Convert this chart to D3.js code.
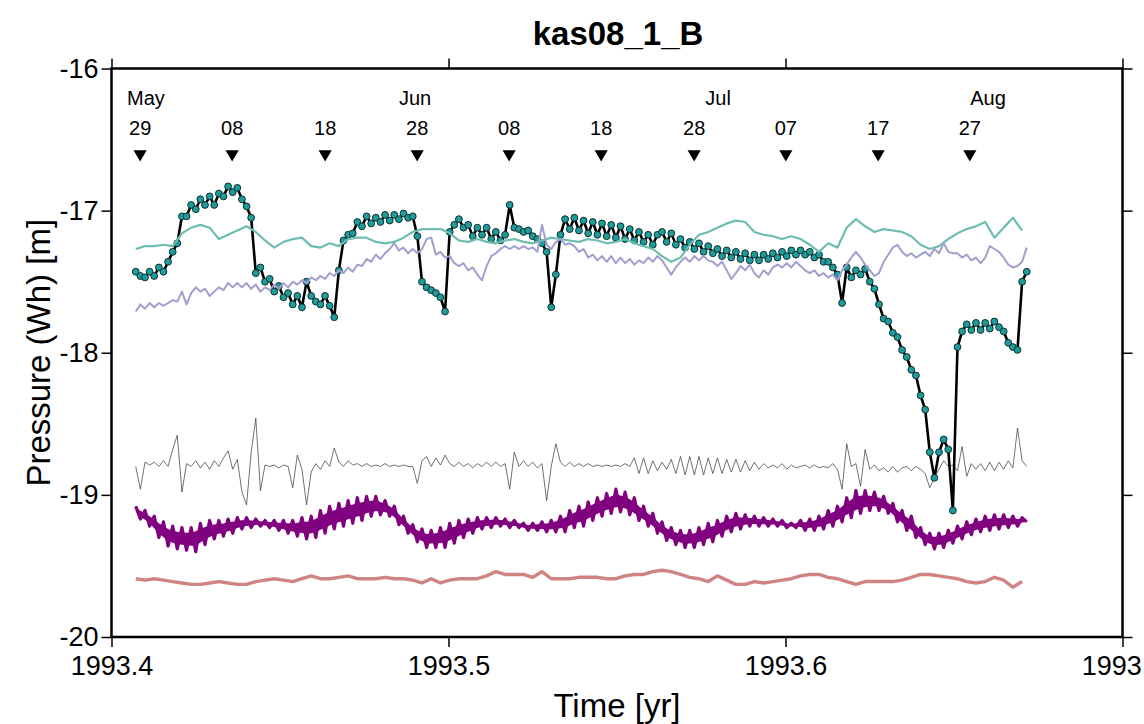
<!DOCTYPE html>
<html>
<head>
<meta charset="utf-8">
<script src="https://cdn.jsdelivr.net/npm/d3@7"></script>
<style>
  body { margin: 0; background: #fff; }
  text { font-family: "Liberation Sans", Arial, Helvetica, sans-serif; }
</style>
</head>
<body>
<svg id="chart" width="1144" height="724"></svg>
<script>
// sampling: first sample and spacing, in decimal years
var startYear = 1993.4072
var halfDay = 0.5 / 365
var oneDay = 1 / 365

// observed pressure (black with dots), half-day samples
var pressure = [
  -17.43,-17.46,-17.47,-17.43,-17.46,-17.40,-17.43,-17.36,-17.29,-17.23,
  -17.04,-17.04,-16.96,-16.99,-16.92,-16.96,-16.90,-16.96,-16.88,-16.90,
  -16.83,-16.87,-16.84,-16.92,-16.97,-17.05,-17.44,-17.40,-17.50,-17.48,
  -17.57,-17.53,-17.61,-17.58,-17.66,-17.60,-17.68,-17.50,-17.60,-17.64,
  -17.66,-17.60,-17.67,-17.75,-17.42,-17.21,-17.17,-17.16,-17.08,-17.11,
  -17.04,-17.09,-17.05,-17.08,-17.03,-17.07,-17.03,-17.06,-17.02,-17.05,
  -17.04,-17.18,-17.50,-17.54,-17.56,-17.58,-17.61,-17.71,-17.15,-17.10,
  -17.06,-17.12,-17.10,-17.18,-17.12,-17.17,-17.12,-17.20,-17.15,-17.21,
  -17.17,-16.96,-17.12,-17.13,-17.15,-17.14,-17.18,-17.20,-17.23,-17.29,
  -17.68,-17.45,-17.17,-17.06,-17.13,-17.05,-17.14,-17.07,-17.16,-17.08,
  -17.17,-17.09,-17.18,-17.10,-17.19,-17.11,-17.20,-17.13,-17.21,-17.15,
  -17.22,-17.17,-17.24,-17.17,-17.15,-17.22,-17.16,-17.24,-17.20,-17.26,
  -17.22,-17.27,-17.23,-17.29,-17.25,-17.30,-17.27,-17.32,-17.28,-17.33,
  -17.29,-17.34,-17.30,-17.35,-17.31,-17.35,-17.31,-17.34,-17.30,-17.33,
  -17.29,-17.32,-17.28,-17.31,-17.28,-17.31,-17.29,-17.33,-17.31,-17.36,
  -17.36,-17.40,-17.45,-17.65,-17.40,-17.47,-17.42,-17.45,-17.41,-17.50,
  -17.55,-17.66,-17.76,-17.78,-17.86,-17.89,-17.98,-18.03,-18.12,-18.16,
  -18.30,-18.40,-18.70,-18.88,-18.70,-18.61,-18.68,-19.11,-17.96,-17.85,
  -17.80,-17.84,-17.79,-17.84,-17.79,-17.83,-17.78,-17.82,-17.85,-17.93,
  -17.96,-17.98,-17.50,-17.43
]

// lavender series, half-day samples
var lavender = [
  -17.71,-17.66,-17.69,-17.65,-17.68,-17.65,-17.67,-17.65,-17.63,-17.64,
  -17.57,-17.66,-17.58,-17.54,-17.57,-17.55,-17.60,-17.57,-17.54,-17.56,
  -17.51,-17.54,-17.51,-17.54,-17.51,-17.55,-17.52,-17.57,-17.54,-17.56,
  -17.52,-17.55,-17.51,-17.54,-17.50,-17.52,-17.49,-17.51,-17.47,-17.49,
  -17.46,-17.48,-17.44,-17.46,-17.42,-17.44,-17.40,-17.43,-17.38,-17.39,
  -17.34,-17.36,-17.31,-17.34,-17.30,-17.27,-17.23,-17.28,-17.26,-17.30,
  -17.27,-17.30,-17.27,-17.20,-17.19,-17.31,-17.29,-17.33,-17.32,-17.37,
  -17.39,-17.37,-17.42,-17.40,-17.45,-17.49,-17.39,-17.32,-17.30,-17.27,
  -17.25,-17.27,-17.25,-17.27,-17.25,-17.27,-17.26,-17.29,-17.10,-17.24,
  -17.27,-17.22,-17.20,-17.24,-17.23,-17.25,-17.29,-17.27,-17.33,-17.31,
  -17.35,-17.32,-17.36,-17.32,-17.37,-17.33,-17.37,-17.34,-17.38,-17.35,
  -17.37,-17.33,-17.36,-17.32,-17.35,-17.40,-17.45,-17.40,-17.36,-17.33,
  -17.36,-17.32,-17.35,-17.32,-17.35,-17.36,-17.39,-17.36,-17.42,-17.48,
  -17.44,-17.39,-17.42,-17.38,-17.44,-17.47,-17.42,-17.45,-17.40,-17.38,
  -17.40,-17.37,-17.40,-17.36,-17.39,-17.42,-17.44,-17.42,-17.46,-17.44,
  -17.47,-17.45,-17.49,-17.42,-17.38,-17.33,-17.29,-17.33,-17.38,-17.42,
  -17.46,-17.44,-17.36,-17.31,-17.26,-17.24,-17.29,-17.32,-17.30,-17.33,
  -17.31,-17.29,-17.32,-17.27,-17.30,-17.23,-17.29,-17.30,-17.30,-17.33,
  -17.31,-17.35,-17.33,-17.37,-17.33,-17.25,-17.27,-17.29,-17.33,-17.38,
  -17.40,-17.39,-17.36,-17.26
]

// thin grey residual, half-day samples
var residual = [
  -18.80,-18.96,-18.77,-18.79,-18.77,-18.80,-18.76,-18.80,-18.68,-18.58,
  -18.98,-18.78,-18.80,-18.76,-18.81,-18.77,-18.82,-18.76,-18.80,-18.74,
  -18.69,-18.82,-18.75,-18.98,-19.07,-18.70,-18.46,-18.97,-18.79,-18.80,
  -18.79,-18.81,-18.79,-18.80,-18.95,-18.72,-18.82,-19.07,-18.84,-18.78,
  -18.82,-18.76,-18.80,-18.67,-18.77,-18.80,-18.76,-18.79,-18.78,-18.80,
  -18.78,-18.80,-18.79,-18.80,-18.78,-18.80,-18.79,-18.80,-18.79,-18.80,
  -18.80,-18.92,-18.76,-18.73,-18.80,-18.74,-18.79,-18.72,-18.78,-18.80,
  -18.77,-18.80,-18.78,-18.81,-18.78,-18.80,-18.77,-18.80,-18.77,-18.80,
  -18.78,-18.96,-18.70,-18.80,-18.76,-18.80,-18.77,-18.81,-18.78,-19.04,
  -18.80,-18.64,-18.77,-18.80,-18.77,-18.80,-18.78,-18.80,-18.78,-18.80,
  -18.79,-18.80,-18.79,-18.80,-18.79,-18.80,-18.78,-18.80,-18.74,-18.85,
  -18.74,-18.85,-18.76,-18.83,-18.77,-18.82,-18.75,-18.85,-18.73,-18.86,
  -18.73,-18.86,-18.73,-18.86,-18.74,-18.85,-18.74,-18.85,-18.75,-18.84,
  -18.75,-18.84,-18.76,-18.83,-18.77,-18.82,-18.78,-18.81,-18.79,-18.81,
  -18.78,-18.82,-18.79,-18.81,-18.80,-18.79,-18.81,-18.79,-18.81,-18.80,
  -18.81,-18.78,-18.82,-18.96,-18.64,-18.80,-18.78,-18.94,-18.68,-18.82,
  -18.79,-18.83,-18.81,-18.84,-18.80,-18.84,-18.81,-18.80,-18.83,-18.80,
  -18.82,-18.85,-18.95,-18.88,-18.82,-18.76,-18.80,-18.79,-18.83,-18.66,
  -18.87,-18.78,-18.82,-18.78,-18.83,-18.77,-18.83,-18.77,-18.82,-18.76,
  -18.81,-18.53,-18.76,-18.80
]

// purple tide band, half-day samples
var tide = [
  -19.08,-19.17,-19.11,-19.22,-19.15,-19.30,-19.19,-19.36,-19.22,-19.38,
  -19.23,-19.39,-19.23,-19.40,-19.20,-19.35,-19.18,-19.31,-19.18,-19.29,
  -19.17,-19.27,-19.16,-19.24,-19.16,-19.23,-19.17,-19.22,-19.18,-19.23,
  -19.18,-19.25,-19.18,-19.27,-19.18,-19.29,-19.16,-19.31,-19.15,-19.30,
  -19.11,-19.27,-19.08,-19.24,-19.06,-19.22,-19.04,-19.20,-19.02,-19.18,
  -19.01,-19.15,-19.01,-19.14,-19.04,-19.15,-19.08,-19.21,-19.15,-19.27,
  -19.21,-19.33,-19.24,-19.37,-19.25,-19.37,-19.23,-19.37,-19.20,-19.34,
  -19.18,-19.30,-19.17,-19.27,-19.16,-19.24,-19.16,-19.23,-19.16,-19.22,
  -19.17,-19.23,-19.18,-19.23,-19.20,-19.25,-19.20,-19.25,-19.19,-19.26,
  -19.18,-19.26,-19.15,-19.26,-19.11,-19.23,-19.08,-19.22,-19.05,-19.18,
  -19.02,-19.15,-18.99,-19.13,-18.96,-19.12,-18.98,-19.14,-19.02,-19.18,
  -19.08,-19.22,-19.13,-19.27,-19.19,-19.32,-19.23,-19.35,-19.25,-19.37,
  -19.25,-19.37,-19.23,-19.35,-19.20,-19.33,-19.18,-19.29,-19.15,-19.26,
  -19.13,-19.24,-19.14,-19.22,-19.15,-19.22,-19.16,-19.22,-19.17,-19.22,
  -19.18,-19.23,-19.20,-19.23,-19.18,-19.25,-19.17,-19.25,-19.15,-19.24,
  -19.11,-19.22,-19.08,-19.19,-19.02,-19.16,-18.97,-19.13,-18.97,-19.11,
  -18.98,-19.11,-19.01,-19.13,-19.06,-19.19,-19.11,-19.25,-19.15,-19.30,
  -19.23,-19.35,-19.27,-19.38,-19.27,-19.37,-19.25,-19.34,-19.22,-19.31,
  -19.19,-19.28,-19.17,-19.26,-19.15,-19.25,-19.14,-19.24,-19.14,-19.23,
  -19.15,-19.22,-19.16,-19.19
]

// teal series, daily samples
var teal = [
  -17.27,-17.25,-17.25,-17.24,-17.25,-17.16,-17.12,-17.10,-17.12,-17.20,
  -17.17,-17.14,-17.11,-17.15,-17.21,-17.26,-17.22,-17.20,-17.19,-17.25,
  -17.26,-17.23,-17.25,-17.20,-17.19,-17.19,-17.22,-17.23,-17.22,-17.19,
  -17.15,-17.13,-17.13,-17.13,-17.16,-17.21,-17.22,-17.20,-17.22,-17.23,
  -17.21,-17.20,-17.22,-17.23,-17.21,-17.19,-17.20,-17.21,-17.22,-17.20,
  -17.21,-17.23,-17.22,-17.20,-17.23,-17.25,-17.27,-17.32,-17.36,-17.33,
  -17.24,-17.17,-17.15,-17.12,-17.09,-17.07,-17.08,-17.15,-17.17,-17.18,
  -17.20,-17.18,-17.20,-17.24,-17.29,-17.23,-17.26,-17.12,-17.06,-17.11,
  -17.15,-17.13,-17.14,-17.15,-17.18,-17.24,-17.27,-17.25,-17.20,-17.16,
  -17.13,-17.11,-17.08,-17.19,-17.12,-17.05,-17.14
]

// rose series at the bottom, daily samples
var rose = [
  -19.59,-19.60,-19.59,-19.60,-19.61,-19.62,-19.63,-19.63,-19.62,-19.61,
  -19.62,-19.63,-19.63,-19.61,-19.60,-19.59,-19.60,-19.61,-19.59,-19.57,
  -19.59,-19.59,-19.58,-19.57,-19.59,-19.59,-19.59,-19.58,-19.59,-19.59,
  -19.60,-19.62,-19.59,-19.62,-19.60,-19.59,-19.59,-19.59,-19.57,-19.54,
  -19.56,-19.56,-19.56,-19.58,-19.54,-19.59,-19.59,-19.59,-19.58,-19.58,
  -19.58,-19.59,-19.59,-19.57,-19.56,-19.56,-19.54,-19.53,-19.54,-19.56,
  -19.58,-19.59,-19.61,-19.57,-19.60,-19.63,-19.63,-19.61,-19.62,-19.61,
  -19.60,-19.59,-19.57,-19.56,-19.56,-19.58,-19.59,-19.61,-19.63,-19.61,
  -19.61,-19.61,-19.61,-19.60,-19.58,-19.56,-19.56,-19.57,-19.58,-19.59,
  -19.61,-19.62,-19.61,-19.58,-19.60,-19.65,-19.61
]

// calendar markers along the top
var markerYears = [1993.4085, 1993.4358, 1993.4634, 1993.4907, 1993.5180,
                   1993.5453, 1993.5729, 1993.6001, 1993.6275, 1993.6547]
var markerDays = ["29", "08", "18", "28", "08", "18", "28", "07", "17", "27"]
var monthNames = ["May", "Jun", "Jul", "Aug"]
var monthYears = [1993.4102, 1993.4901, 1993.5800, 1993.6601]

var xTicks = [1993.4, 1993.5, 1993.6, 1993.7]
var yTicks = [-20, -19, -18, -17, -16]

var frameLeft = 111.5, frameRight = 1122.5, frameTop = 68.5, frameBottom = 637

var svg = d3.select('#chart')

var x = d3.scaleLinear().domain([1993.4, 1993.7]).range([frameLeft, frameRight])
var y = d3.scaleLinear().domain([-20, -16]).range([frameBottom, frameTop])

function toPoints(values, step) {
  return values.map(function(v, i) { return { t: startYear + i * step, v: v } })
}

var line = d3.line()
  .x(function(d) { return x(d.t) })
  .y(function(d) { return y(d.v) })

var plot = svg.append('g')

// bottom-most curves first
plot.append('path')
  .datum(toPoints(rose, oneDay))
  .attr('d', line)
  .attr('fill', 'none')
  .attr('stroke', '#cf8383')
  .attr('stroke-width', 3.4)
  .attr('stroke-linejoin', 'round')

// tide: solid core between the alternating highs and lows, zigzag on top
var tidePts = toPoints(tide, halfDay)
var tideCore = tidePts.map(function(d, i) {
  var prev = tide[Math.max(i - 1, 0)], next = tide[Math.min(i + 1, tide.length - 1)]
  var other = (prev + next) / 2
  var mid = (d.v + other) / 2
  var half = Math.abs(d.v - other) / 2 * 0.55
  return { t: d.t, lo: mid - half, hi: mid + half }
})
plot.append('path')
  .datum(tideCore)
  .attr('d', d3.area()
    .x(function(d) { return x(d.t) })
    .y0(function(d) { return y(d.lo) })
    .y1(function(d) { return y(d.hi) }))
  .attr('fill', '#800080')

plot.append('path')
  .datum(tidePts)
  .attr('d', line)
  .attr('fill', 'none')
  .attr('stroke', '#800080')
  .attr('stroke-width', 3.2)
  .attr('stroke-linejoin', 'round')

plot.append('path')
  .datum(toPoints(residual, halfDay))
  .attr('d', line)
  .attr('fill', 'none')
  .attr('stroke', '#333')
  .attr('stroke-width', 0.7)

// pressure record: line plus circles
var pts = toPoints(pressure, halfDay)
plot.append('path')
  .datum(pts)
  .attr('d', line)
  .attr('fill', 'none')
  .attr('stroke', '#000')
  .attr('stroke-width', 2.6)

plot.selectAll('circle.obs')
  .data(pts)
  .enter().append('circle')
  .attr('class', 'obs')
  .attr('cx', function(d) { return x(d.t) })
  .attr('cy', function(d) { return y(d.v) })
  .attr('r', 3.4)
  .attr('fill', '#1f9c9a')
  .attr('stroke', '#0b2f2f')
  .attr('stroke-width', 1)

plot.append('path')
  .datum(toPoints(teal, oneDay))
  .attr('d', line)
  .attr('fill', 'none')
  .attr('stroke', '#6dbdb1')
  .attr('stroke-width', 2.2)
  .attr('stroke-linejoin', 'round')

plot.append('path')
  .datum(toPoints(lavender, halfDay))
  .attr('d', line)
  .attr('fill', 'none')
  .attr('stroke', '#a19fcf')
  .attr('stroke-width', 2)
  .attr('stroke-linejoin', 'round')

// date markers
var marks = svg.append('g')
marks.selectAll('path.tri')
  .data(markerYears)
  .enter().append('path')
  .attr('class', 'tri')
  .attr('d', d3.symbol().type(d3.symbolTriangle).size(75))
  .attr('transform', function(d) { return 'translate(' + x(d) + ',154) rotate(180)' })
  .attr('fill', '#000')

marks.selectAll('text.day')
  .data(markerYears)
  .enter().append('text')
  .attr('class', 'day')
  .attr('x', function(d) { return x(d) })
  .attr('y', 135)
  .attr('text-anchor', 'middle')
  .style('font-size', '20px')
  .text(function(d, i) { return markerDays[i] })

marks.selectAll('text.month')
  .data(monthYears)
  .enter().append('text')
  .attr('class', 'month')
  .attr('x', function(d) { return x(d) })
  .attr('y', 105)
  .attr('text-anchor', 'middle')
  .style('font-size', '20px')
  .text(function(d, i) { return monthNames[i] })

// frame and axes
svg.append('rect')
  .attr('x', frameLeft).attr('y', frameTop)
  .attr('width', frameRight - frameLeft).attr('height', frameBottom - frameTop)
  .attr('fill', 'none')
  .attr('stroke', '#000')
  .attr('stroke-width', 2.5)

function styleAxis(g) {
  g.select('.domain').remove()
  g.selectAll('.tick line').attr('stroke', '#000').attr('stroke-width', 1.5)
  g.selectAll('.tick text').style('font-size', '27px').attr('fill', '#000')
    .style('font-family', '"Liberation Sans", Arial, sans-serif')
}

svg.append('g')
  .attr('transform', 'translate(0,' + frameBottom + ')')
  .call(d3.axisBottom(x).tickValues(xTicks).tickSize(10).tickPadding(9)
    .tickFormat(function(d) { return d.toFixed(1) }))
  .call(styleAxis)

svg.append('g')
  .attr('transform', 'translate(0,' + frameTop + ')')
  .call(d3.axisTop(x).tickValues(xTicks).tickSize(10).tickFormat(''))
  .call(styleAxis)

svg.append('g')
  .attr('transform', 'translate(' + frameLeft + ',0)')
  .call(d3.axisLeft(y).tickValues(yTicks).tickSize(10).tickPadding(3)
    .tickFormat(function(d) { return String(d) }))
  .call(styleAxis)

svg.append('g')
  .attr('transform', 'translate(' + frameRight + ',0)')
  .call(d3.axisRight(y).tickValues(yTicks).tickSize(10).tickFormat(''))
  .call(styleAxis)

// titles
svg.append('text')
  .attr('x', 618).attr('y', 45)
  .attr('text-anchor', 'middle')
  .style('font-size', '33px')
  .style('font-weight', 'bold')
  .text('kas08_1_B')

svg.append('text')
  .attr('x', 617).attr('y', 717)
  .attr('text-anchor', 'middle')
  .style('font-size', '33px')
  .text('Time [yr]')

svg.append('text')
  .attr('transform', 'translate(50,' + ((frameTop + frameBottom) / 2) + ') rotate(-90)')
  .attr('text-anchor', 'middle')
  .style('font-size', '33px')
  .text('Pressure (Wh) [m]')
</script>
</body>
</html>
